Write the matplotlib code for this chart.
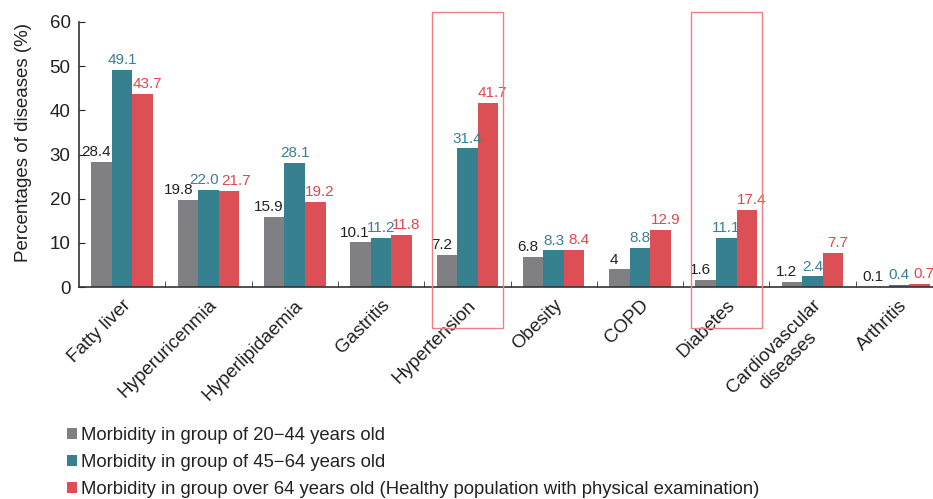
import matplotlib
matplotlib.use("Agg")
import matplotlib.pyplot as plt
import numpy as np
from matplotlib.patches import Rectangle, Patch

plt.rcParams['font.family'] = ['Liberation Sans', 'DejaVu Sans']

categories = ["Fatty liver", "Hyperuricenmia", "Hyperlipidaemia", "Gastritis",
              "Hypertension", "Obesity", "COPD", "Diabetes",
              "Cardiovascular\ndiseases", "Arthritis"]
age_20_44 = [28.4, 19.8, 15.9, 10.1, 7.2, 6.8, 4, 1.6, 1.2, 0.1]
age_45_64 = [49.1, 22.0, 28.1, 11.2, 31.4, 8.3, 8.8, 11.1, 2.4, 0.4]
age_over_64 = [43.7, 21.7, 19.2, 11.8, 41.7, 8.4, 12.9, 17.4, 7.7, 0.7]
labels_20_44 = ["28.4", "19.8", "15.9", "10.1", "7.2", "6.8", "4", "1.6", "1.2", "0.1"]
labels_45_64 = ["49.1", "22.0", "28.1", "11.2", "31.4", "8.3", "8.8", "11.1", "2.4", "0.4"]
labels_over_64 = ["43.7", "21.7", "19.2", "11.8", "41.7", "8.4", "12.9", "17.4", "7.7", "0.7"]
legend_labels = ["Morbidity in group of 20\u221244 years old",
                 "Morbidity in group of 45\u221264 years old",
                 "Morbidity in group over 64 years old (Healthy population with physical examination)"]
highlighted = ["Hypertension", "Diabetes"]

colors = ["#808084", "#37808f", "#dc4f55"]
text_colors = ["#222222", "#3b7f96", "#e0474c"]

fig = plt.figure(figsize=(9.33, 4.99), dpi=100)
ax = fig.add_axes([79 / 933, 1 - 287 / 499, 1 - 79 / 933, (287 - 22) / 499])

x = np.arange(len(categories))
w = 0.238
series = [age_20_44, age_45_64, age_over_64]
series_labels = [labels_20_44, labels_45_64, labels_over_64]
offsets = [-w, 0, w]
label_shift = [-4, 0, 3.5]
# extra horizontal nudge (points) for value labels that would collide
nudge = {("Hyperuricenmia", 0): -3, ("Hyperuricenmia", 1): -3.5, ("Hyperuricenmia", 2): 1.5}

for k, (vals, labs, off, c, tc, sh) in enumerate(zip(series, series_labels, offsets,
                                                      colors, text_colors, label_shift)):
    bars = ax.bar(x + off, vals, width=w, color=c, edgecolor='none')
    for cat, b, v, lab in zip(categories, bars, vals, labs):
        dx = sh + nudge.get((cat, k), 0)
        ax.annotate(lab, (b.get_x() + b.get_width() / 2, v), xytext=(dx, 2),
                    textcoords='offset points', ha='center', va='bottom',
                    fontsize=11, color=tc)

ax.set_xlim(-0.5, -0.5 + (933 - 79) / 86.3)
ax.set_ylim(0, 60)
ax.set_yticks(np.arange(0, 61, 10))
ax.tick_params(axis='y', direction='in', length=4, labelsize=13.5, colors='#222222', pad=6)
ax.set_xticks(x)
ax.set_xticklabels(categories, rotation=45, ha='right', rotation_mode='anchor',
                   fontsize=13.5, color='#222222', multialignment='center')
ax.tick_params(axis='x', which='major', length=0, pad=7)
ax.set_xticks(np.arange(0.5, len(categories) - 0.5, 1), minor=True)
ax.tick_params(axis='x', which='minor', direction='in', length=4, color='#333333')
for s in ['top', 'right']:
    ax.spines[s].set_visible(False)
for s in ['left', 'bottom']:
    ax.spines[s].set_color('#333333')
    ax.spines[s].set_linewidth(1.2)
ax.set_ylabel("Percentages of diseases (%)", fontsize=13.5, color='#222222')
ax.yaxis.set_label_coords(-0.055, 0.547)

# outline the highlighted categories
for name in highlighted:
    i = categories.index(name)
    rect = Rectangle((i - 0.41, -9.3), 0.82, 71.5, fill=False, edgecolor='#f08080',
                     linewidth=1.0, clip_on=False, zorder=5)
    ax.add_patch(rect)

handles = [Patch(facecolor=c, edgecolor='none') for c in colors]
fig.legend(handles, legend_labels, loc='upper left', bbox_to_anchor=(67 / 933, 1 - 427 / 499),
           frameon=False, fontsize=13.3, handlelength=0.55, handleheight=0.55,
           handletextpad=0.2, labelspacing=0.55, borderpad=0, borderaxespad=0,
           labelcolor='#222222')

fig.savefig("out.png", dpi=100)
